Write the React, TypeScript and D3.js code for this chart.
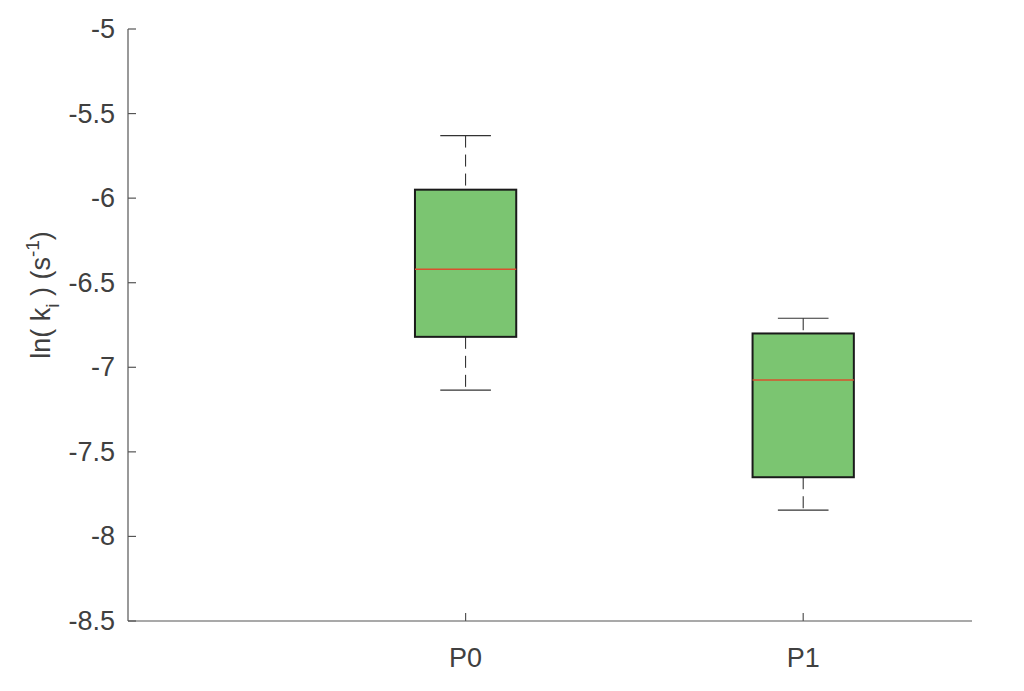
import React from "react";
import * as d3 from "d3";

const categories = ["P0", "P1"];
const whiskerHigh = [-5.63, -6.71];
const q3 = [-5.95, -6.80];
const medians = [-6.42, -7.075];
const q1 = [-6.82, -7.65];
const whiskerLow = [-7.135, -7.845];
const yTicks = [-5, -5.5, -6, -6.5, -7, -7.5, -8, -8.5];

const W = 1024;
const H = 691;
const left = 128;
const right = 972;
const top = 29;
const bottom = 621;

export default function App() {
  const x = d3.scaleLinear().domain([0, 2.5]).range([left, right]);
  const y = d3.scaleLinear().domain([-8.5, -5]).range([bottom, top]);
  const boxW = (x(1) - x(0)) * 0.3;
  const capW = boxW / 2;
  const font = "Helvetica, Arial, 'Liberation Sans', sans-serif";
  const axisColor = "#555555";
  const textColor = "#404040";

  return (
    <svg width={W} height={H} style={{ position: "absolute", left: 0, top: 0 }}>
      <rect width={W} height={H} fill="#ffffff" />
      <line x1={left} x2={left} y1={top} y2={bottom} stroke={axisColor} strokeWidth={1.2} />
      <line x1={left} x2={right} y1={bottom} y2={bottom} stroke={axisColor} strokeWidth={1.2} />
      {yTicks.map((t) => (
        <g key={t}>
          <line x1={left} x2={left + 8} y1={y(t)} y2={y(t)} stroke={axisColor} strokeWidth={1.2} />
          <text
            x={left - 13}
            y={y(t)}
            textAnchor="end"
            dominantBaseline="central"
            fontFamily={font}
            fontSize={27}
            fill={textColor}
          >
            {Number.isInteger(t) ? String(t) : t.toFixed(1)}
          </text>
        </g>
      ))}
      {categories.map((c, i) => (
        <g key={c}>
          <line x1={x(i + 1)} x2={x(i + 1)} y1={bottom} y2={bottom - 8} stroke={axisColor} strokeWidth={1.2} />
          <text
            x={x(i + 1)}
            y={bottom + 37}
            textAnchor="middle"
            dominantBaseline="central"
            fontFamily={font}
            fontSize={27}
            fill={textColor}
          >
            {c}
          </text>
        </g>
      ))}
      <text
        transform={`translate(50, ${(top + bottom) / 2 - 30}) rotate(-90)`}
        textAnchor="middle"
        fontFamily={font}
        fontSize={27}
        fill={textColor}
      >
        <tspan>ln( k</tspan>
        <tspan dy={9} fontSize={19}>i</tspan>
        <tspan dy={-9}> ) (s</tspan>
        <tspan dy={-11} fontSize={19}>-1</tspan>
        <tspan dy={11}>)</tspan>
      </text>
      {categories.map((c, i) => {
        const cx = x(i + 1);
        return (
          <g key={c + "box"}>
            <line x1={cx} x2={cx} y1={y(whiskerHigh[i])} y2={y(q3[i])} stroke="#222" strokeWidth={1} strokeDasharray="12,7" />
            <line x1={cx} x2={cx} y1={y(q1[i])} y2={y(whiskerLow[i])} stroke="#222" strokeWidth={1} strokeDasharray="12,7" />
            <line x1={cx - capW / 2} x2={cx + capW / 2} y1={y(whiskerHigh[i])} y2={y(whiskerHigh[i])} stroke="#333" strokeWidth={1.2} />
            <line x1={cx - capW / 2} x2={cx + capW / 2} y1={y(whiskerLow[i])} y2={y(whiskerLow[i])} stroke="#333" strokeWidth={1.2} />
            <rect
              x={cx - boxW / 2}
              y={y(q3[i])}
              width={boxW}
              height={y(q1[i]) - y(q3[i])}
              fill="#7bc571"
              stroke="#1a1a1a"
              strokeWidth={2}
            />
            <line x1={cx - boxW / 2} x2={cx + boxW / 2} y1={y(medians[i])} y2={y(medians[i])} stroke="#d9502e" strokeWidth={1.5} />
          </g>
        );
      })}
    </svg>
  );
}
